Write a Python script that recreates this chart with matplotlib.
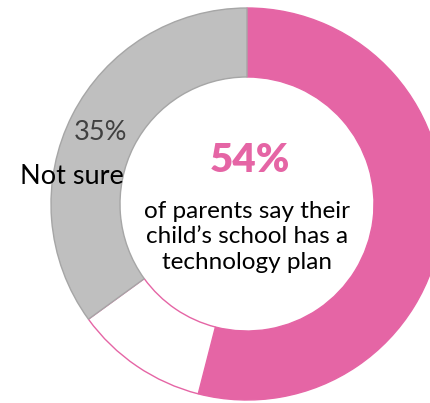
import matplotlib
matplotlib.use("Agg")
import matplotlib.pyplot as plt

# Survey shares (percent), drawn clockwise from 12 o'clock
categories = ["Yes", "No", "Not sure"]
shares = [54, 11, 35]
colors = ["#E565A5", "#FFFFFF", "#BFBFBF"]
edges = ["#E565A5", "#E565A5", "#A6A6A6"]

headline = f"{shares[0]}%"
caption = "of parents say their\nchild\u2019s school has a\ntechnology plan"

plt.rcParams["font.family"] = ["Lato", "DejaVu Sans"]

fig = plt.figure(figsize=(4.31, 4.03), dpi=100)
ax = fig.add_axes([0, 0, 1, 1])

# pixel-like coordinates with y growing downward; angles are mirrored,
# so starting at -90 and going counter-clockwise in data reads as
# clockwise from the top on screen
cx, cy, r_out, r_in = 247, 204, 196, 127
wedges, _ = ax.pie(shares, colors=colors, startangle=-90, counterclock=True,
                   center=(cx, cy), radius=r_out, frame=True,
                   wedgeprops=dict(width=r_out - r_in, linewidth=1.0))
for w, ec in zip(wedges, edges):
    w.set_edgecolor(ec)
ax.set_xlim(0, 431)
ax.set_ylim(403, 0)
ax.set_aspect("equal")
ax.axis("off")

ax.text(250, 160, headline, color="#E565A5", fontsize=29, fontweight="heavy",
        ha="center", va="center")
ax.text(247, 237, caption, color="black", fontsize=17.5, ha="center",
        va="center", linespacing=1.25)

ax.text(101, 132, f"{shares[2]}%", color="#404040", fontsize=19.5,
        ha="center", va="center")
ax.text(72, 177, categories[2], color="black", fontsize=19.5,
        ha="center", va="center")

fig.savefig("out.png", dpi=100)
